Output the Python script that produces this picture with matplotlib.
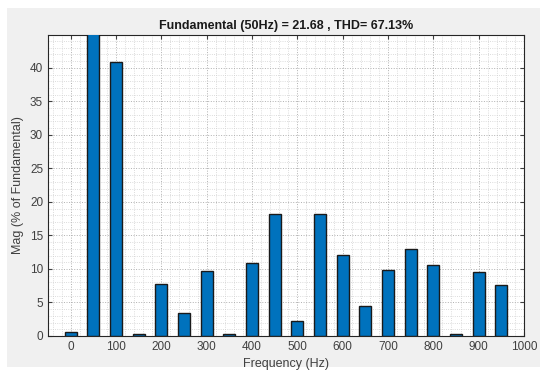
import matplotlib
matplotlib.use("Agg")
import matplotlib.pyplot as plt
from matplotlib.patches import Rectangle
from matplotlib.ticker import MultipleLocator

freqs = [0, 50, 100, 150, 200, 250, 300, 350, 400, 450,
         500, 550, 600, 650, 700, 750, 800, 850, 900, 950]
mags = [0.6, 100.0, 40.8, 0.3, 7.8, 3.4, 9.75, 0.25, 10.9, 18.2,
        2.2, 18.2, 12.15, 4.5, 9.85, 13.05, 10.6, 0.25, 9.6, 7.6]
title = "Fundamental (50Hz) = 21.68 , THD= 67.13%"

plt.rcParams['font.family'] = ['Liberation Sans', 'DejaVu Sans']

fig = plt.figure(figsize=(5.5, 3.85), dpi=100, facecolor="white")
fig.patches.append(Rectangle((7/550, 1-367/385), 533/550, 359/385,
                             transform=fig.transFigure, facecolor="#f0f0f0",
                             edgecolor="none", zorder=-10))
ax = fig.add_axes([48/550, 1-336/385, 476/550, 301/385])
ax.set_facecolor("white")

ax.bar(freqs, mags, width=26, color="#0072BD", edgecolor="#1a1a1a",
       linewidth=1.0, zorder=3)

ax.set_xlim(-50, 1000)
ax.set_ylim(0, 44.9)
ax.xaxis.set_major_locator(MultipleLocator(100))
ax.yaxis.set_major_locator(MultipleLocator(5))
ax.xaxis.set_minor_locator(MultipleLocator(20))
ax.yaxis.set_minor_locator(MultipleLocator(1))
ax.grid(which="major", color="#b0b0b0", linestyle=":", linewidth=0.7, zorder=0)
ax.grid(which="minor", color="#d0d0d0", linestyle=":", linewidth=0.6, zorder=0)
ax.tick_params(which="both", direction="in", top=True, right=True,
               labelsize=8.5, colors="#404040", length=3)
ax.tick_params(which="minor", length=0)
for s in ax.spines.values():
    s.set_color("#262626")
    s.set_linewidth(0.8)

ax.set_title(title, fontsize=9, fontweight="bold", color="#1a1a1a", pad=4)
ax.set_xlabel("Frequency (Hz)", fontsize=9, color="#404040")
ax.set_ylabel("Mag (% of Fundamental)", fontsize=9, color="#404040")

fig.savefig("out.png", dpi=100)
